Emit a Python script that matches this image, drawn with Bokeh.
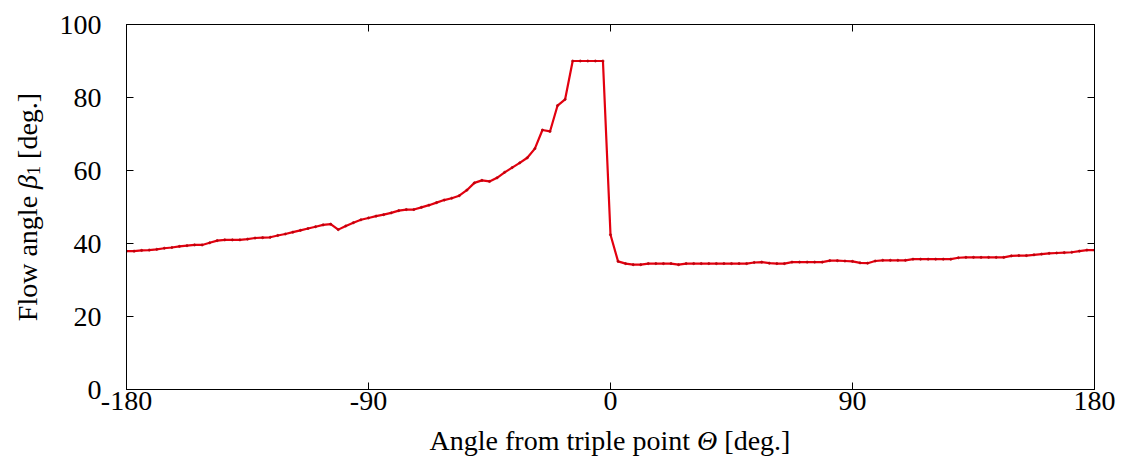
import numpy as np
from bokeh.plotting import figure
from bokeh.layouts import row, column
from bokeh.models import Range1d, FixedTicker, LinearAxis, Label
from bokeh.embed import file_html
from bokeh.resources import INLINE

# ---- data ----
theta = np.linspace(-180.0, 180.0, 129)  # angle sampling grid, 2.8125 deg step
beta1 = [
    37.9, 37.9, 38.1, 38.2, 38.4, 38.7, 38.9, 39.2, 39.4, 39.6,
    39.6, 40.2, 40.8, 41.0, 41.0, 41.0, 41.2, 41.5, 41.6, 41.7,
    42.2, 42.6, 43.1, 43.6, 44.1, 44.6, 45.1, 45.3, 43.8, 44.8,
    45.7, 46.5, 47.0, 47.5, 47.9, 48.4, 49.0, 49.3, 49.3, 49.9,
    50.5, 51.2, 51.9, 52.4, 53.1, 54.6, 56.6, 57.3, 57.0, 58.0,
    59.5, 60.8, 62.1, 63.5, 66.0, 71.1, 70.7, 77.8, 79.5, 90.0,
    90.0, 90.0, 90.0, 90.0, 42.4, 35.1, 34.5, 34.2, 34.2, 34.5,
    34.5, 34.5, 34.5, 34.2, 34.5, 34.5, 34.5, 34.5, 34.5, 34.5,
    34.5, 34.5, 34.5, 34.8, 34.9, 34.6, 34.5, 34.5, 34.9, 34.9,
    34.9, 34.9, 34.9, 35.3, 35.3, 35.2, 35.1, 34.7, 34.6, 35.2,
    35.4, 35.4, 35.4, 35.4, 35.7, 35.7, 35.7, 35.7, 35.7, 35.7,
    36.1, 36.2, 36.2, 36.2, 36.2, 36.2, 36.2, 36.6, 36.7, 36.7,
    36.9, 37.1, 37.3, 37.4, 37.5, 37.6, 37.9, 38.2, 38.2,
]
x_ticks = [-180, -90, 0, 90, 180]
x_tick_labels = ["-180", "-90", "0", "90", "180"]
y_ticks = [0, 20, 40, 60, 80, 100]
x_title = ["Angle from triple point", "\u0398", "[deg.]"]
y_title = ["Flow angle", "\u03b2", "1", "[deg.]"]

FONT = "Liberation Serif"
FS = 28
W, H = 1122, 457
ML = 56            # width of the strip holding the y title
MAIN_H = 425       # main figure height (frame bottom at 389)
FRAME_B = 389
L, R, T, B = 125, 28, 24, MAIN_H - FRAME_B

common = dict(output_backend="svg", toolbar_location=None, title=None,
              background_fill_color="white", border_fill_color="white")

p = figure(width=W - ML, height=MAIN_H,
           x_range=Range1d(-180, 180), y_range=Range1d(0, 100),
           min_border_left=L - ML, min_border_right=R, min_border_top=T, min_border_bottom=B,
           **common)
p.grid.visible = False
p.outline_line_color = "black"
p.outline_line_width = 1

def style_axis(ax, ticks, labels=True):
    ax.ticker = FixedTicker(ticks=ticks)
    ax.major_tick_in = 7
    ax.major_tick_out = 0
    ax.minor_tick_in = 0
    ax.minor_tick_out = 0
    ax.axis_line_color = "black"
    ax.axis_line_width = 1
    ax.major_tick_line_color = "black"
    ax.major_tick_line_width = 1
    if labels:
        ax.major_label_text_font = FONT
        ax.major_label_text_font_size = f"{FS}px"
        ax.major_label_text_color = "black"
    else:
        ax.major_label_text_font_size = "1px"
        ax.major_label_overrides = {t: "" for t in ticks}
        ax.major_label_standoff = 0

style_axis(p.xaxis[0], x_ticks)
style_axis(p.yaxis[0], y_ticks)
p.xaxis[0].major_label_overrides = dict(zip(x_ticks, x_tick_labels))
p.xaxis[0].major_label_standoff = 2
p.yaxis[0].major_label_standoff = 25

top_ax = LinearAxis()
style_axis(top_ax, x_ticks, labels=False)
p.add_layout(top_ax, "above")
right_ax = LinearAxis()
style_axis(right_ax, y_ticks, labels=False)
p.add_layout(right_ax, "right")

p.line(theta, beta1, line_color="#e3000f", line_width=2.2)
p.scatter(theta, beta1, size=2.2, color="#b8000c", alpha=0.7)

# --- title strips (composed text so the Greek letters can be italic) ---
MET = {"A": .722, "n": .5, "g": .5, "l": .278, "e": .444, " ": .25, "f": .333,
       "r": .333, "o": .5, "m": .778, "t": .278, "i": .278, "p": .5, "\u0398": .722,
       "[": .333, "d": .5, ".": .25, "]": .333, "F": .556, "w": .722, "a": .444,
       "\u03b2": .5, "1": .5}

def tw(s, size):
    return sum(MET.get(c, .5) for c in s) * size

def strip(w, h):
    f = figure(width=w, height=h, x_range=Range1d(0, 1), y_range=Range1d(0, 1),
               min_border=0, x_axis_location=None, y_axis_location=None, **common)
    f.grid.visible = False
    f.outline_line_color = None
    return f

# x title: pieces laid out left to right, gaps = one space
XH = H - MAIN_H
xfig = strip(W, XH)
SP = tw(" ", FS)
styles_x = ["normal", "italic", "normal"]
gaps_x = [SP, SP, 0]
widths = [tw(s, FS) for s in x_title]
total = sum(widths) + sum(gaps_x)
cx = (L + (W - R)) / 2.0
pos = cx - total / 2.0
mid_y = 440
for s, st, w, g in zip(x_title, styles_x, widths, gaps_x):
    xfig.add_layout(Label(x=pos, y=H - mid_y, x_units="screen", y_units="screen",
                          text=s, text_font=FONT, text_font_size=f"{FS}px", text_font_style=st,
                          text_color="black", text_align="left", text_baseline="middle"))
    pos += w + g

# y title: rotated, reading upward; strip frame is aligned with the main frame (24..389)
yfig = strip(ML, MAIN_H)
SUB = 18
sizes_y = [FS, FS, SUB, FS]
styles_y = ["normal", "italic", "normal", "normal"]
shifts = [0, 0, 6, 0]
gaps_y = [SP, 0, SP, 0]
widths = [tw(s, fs) for s, fs in zip(y_title, sizes_y)]
total = sum(widths) + sum(gaps_y)
cy = (T + FRAME_B) / 2.0
pos = cy + total / 2.0
mid_x = 27
for s, fs, st, w, sh, g in zip(y_title, sizes_y, styles_y, widths, shifts, gaps_y):
    yfig.add_layout(Label(x=mid_x + sh, y=FRAME_B - pos, x_units="screen", y_units="screen",
                          text=s, text_font=FONT, text_font_size=f"{fs}px", text_font_style=st,
                          text_color="black", text_align="left", text_baseline="middle",
                          angle=np.pi / 2))
    pos -= w + g

layout = column(row(yfig, p), xfig)
open("out.html", "w").write(file_html(layout, INLINE))
